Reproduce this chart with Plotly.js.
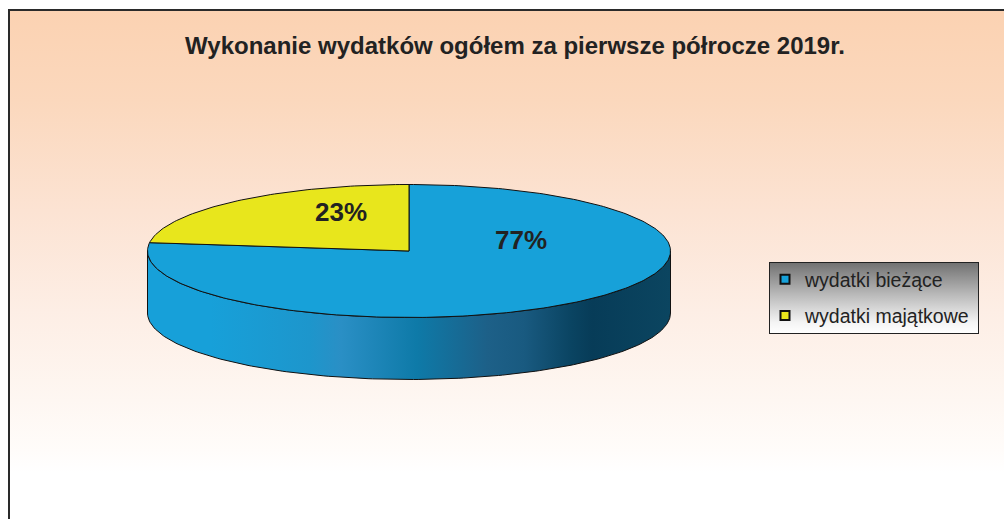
<!DOCTYPE html>
<html>
<head>
<meta charset="utf-8">
<script src="https://cdn.plot.ly/plotly-3.0.1.min.js"></script>
<style>
  html, body { margin:0; padding:0; background:#ffffff; width:1004px; height:519px; overflow:hidden; }
  #frame { position:absolute; left:8px; top:9px; width:1010px; height:520px;
           border-top:2px solid #2a2a2a; border-left:2px solid #2a2a2a;
           background: linear-gradient(to bottom, #fbd2b2 0px, #fbd8bd 90px, #fce3d3 200px, #fdeee5 300px, #fef7f2 390px, #fffcfa 440px, #ffffff 462px); }
  #legbox { position:absolute; left:769px; top:262px; width:208px; height:70px;
            border:1px solid #222; background: linear-gradient(to bottom, #727272 0%, #b9b9b9 45%, #f4f4f4 85%, #ffffff 100%); }
  #chart { position:absolute; left:0; top:0; width:1004px; height:519px; }
</style>
</head>
<body>
<div id="frame"></div>
<div id="legbox"></div>
<div id="chart"></div>
<script>
// ---- data ----
const categories = ["wydatki bieżące", "wydatki majątkowe"];
const values = [77, 23];
const colors = ["#17a1d9", "#e8e61c"];
const titleText = "Wykonanie wydatków ogółem za pierwsze półrocze 2019r.";

// ---- geometry (layout, in pixel-unit axes) ----
const CX = 409, CY = 251, RA = 261.5, RB = 66.5, DEPTH = 62;
const labelPos = [[520.5, 240], [341, 212]];

const total = values.reduce((a, b) => a + b, 0);
const rad = d => d * Math.PI / 180;
function arc(a0, a1, dy, n) {
  const xs = [], ys = [];
  for (let i = 0; i <= n; i++) {
    const t = rad(a0 + (a1 - a0) * i / n);
    xs.push(CX + RA * Math.cos(t));
    ys.push(CY + dy - RB * Math.sin(t));
  }
  return [xs, ys];
}

const traces = [];
// side wall (front half)
{
  const [x1, y1] = arc(180, 360, 0, 180);
  const [x2, y2] = arc(360, 180, DEPTH, 180);
  traces.push({
    type: "scatter", mode: "lines", x: x1.concat(x2, [x1[0]]), y: y1.concat(y2, [y1[0]]),
    fill: "toself", line: { color: "#111", width: 1 },
    fillgradient: { type: "horizontal", start: CX - RA, stop: CX + RA,
      colorscale: [[0, "#17a0d9"], [0.12, "#17a0d9"], [0.31, "#1d96cc"], [0.37, "#2a8fc5"],
                   [0.515, "#0e7aa8"], [0.65, "#1d6088"], [0.72, "#195a80"], [0.81, "#0a4462"],
                   [0.85, "#073c58"], [1, "#0b4560"]] },
    showlegend: false, hoverinfo: "skip"
  });
}
// top face slices, clockwise from 12 o'clock
let start = 90;
values.forEach((v, i) => {
  const sweep = v / total * 360;
  const n = Math.max(8, Math.round(sweep));
  const [xs, ys] = arc(start, start - sweep, 0, n);
  traces.push({
    type: "scatter", mode: "lines",
    x: [CX].concat(xs, [CX]), y: [CY].concat(ys, [CY]),
    fill: "toself", fillcolor: colors[i], line: { color: "#111", width: 1 },
    name: categories[i], legendgroup: "g" + i, showlegend: false, hoverinfo: "name"
  });
  start -= sweep;
});
// legend entries
categories.forEach((c, i) => {
  traces.push({
    type: "scatter", mode: "markers", x: [null], y: [null], name: c, legendgroup: "g" + i,
    marker: { symbol: "square", size: 9, color: colors[i], line: { color: "#111", width: 2 } }
  });
});

const annotations = values.map((v, i) => ({
  x: labelPos[i][0], y: labelPos[i][1], xref: "x", yref: "y",
  text: Math.round(v / total * 100) + "%", showarrow: false,
  font: { family: "Liberation Sans, Arial, sans-serif", size: 26, color: "#222", weight: "bold" }
}));

const layout = {
  width: 1004, height: 519,
  margin: { l: 0, r: 0, t: 0, b: 0 },
  paper_bgcolor: "rgba(0,0,0,0)", plot_bgcolor: "rgba(0,0,0,0)",
  title: { text: titleText, x: 515 / 1004, xanchor: "center", y: 1 - 46 / 519, yanchor: "middle",
           font: { family: "Liberation Sans, Arial, sans-serif", size: 24, color: "#222", weight: "bold" } },
  xaxis: { range: [0, 1004], visible: false, fixedrange: true },
  yaxis: { range: [519, 0], visible: false, fixedrange: true },
  showlegend: true,
  legend: { x: 765 / 1004, xanchor: "left", y: 1 - 260 / 519, yanchor: "top",
            bgcolor: "rgba(0,0,0,0)", borderwidth: 0, traceorder: "grouped", tracegroupgap: 8,
            font: { family: "Liberation Sans, Arial, sans-serif", size: 19.5, color: "#222" } },
  annotations: annotations
};

Plotly.newPlot("chart", traces, layout, { displayModeBar: false, staticPlot: true });
</script>
</body>
</html>
